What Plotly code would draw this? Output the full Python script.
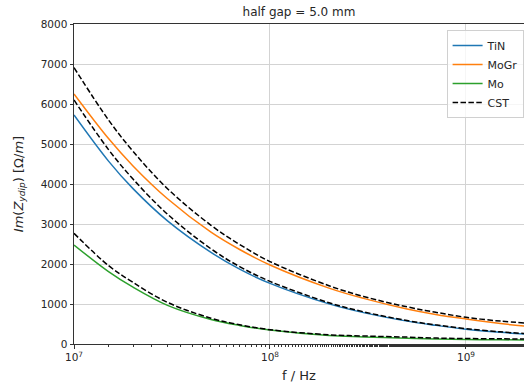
import plotly.graph_objects as go

freq = [1e7, 1.5e7, 2e7, 3e7, 5e7, 7e7, 1e8, 2e8, 3e8, 5e8, 7e8, 1e9, 1.5e9, 2e9]

tin = [5725, 4572, 3884, 3078, 2290, 1871, 1515, 1003, 784, 572, 467, 370, 292, 248]
mogr = [6250, 5135, 4451, 3630, 2795, 2362, 1975, 1397, 1140, 876, 739, 625, 512, 445]
mo = [2475, 1810, 1420, 965, 612, 465, 348, 210, 178, 143, 124, 112, 105, 100]

cst_tin = [6100, 4860, 4124, 3245, 2379, 1935, 1565, 1032, 805, 586, 478, 385, 304, 262]
cst_mogr = [6910, 5600, 4819, 3882, 2968, 2488, 2060, 1457, 1189, 929, 794, 667, 572, 525]
cst_mo = [2767, 1960, 1540, 1040, 645, 482, 358, 230, 200, 172, 148, 137, 130, 125]

y_ticks = [0, 1000, 2000, 3000, 4000, 5000, 6000, 7000, 8000]
x_ticks = [1e7, 1e8, 1e9]
x_ticktext = ["10<sup>7</sup>", "10<sup>8</sup>", "10<sup>9</sup>"]

FONT = "DejaVu Sans"
fig = go.Figure()

for name, ys, col in [("TiN", tin, "#1f77b4"), ("MoGr", mogr, "#ff7f0e"), ("Mo", mo, "#2ca02c")]:
    fig.add_trace(go.Scatter(x=freq, y=ys, mode="lines", name=name,
                             line=dict(color=col, width=1.5, shape="spline", smoothing=1)))

for i, ys in enumerate([cst_tin, cst_mogr, cst_mo]):
    fig.add_trace(go.Scatter(x=freq, y=ys, mode="lines", name="CST",
                             legendgroup="cst", showlegend=(i == 0),
                             line=dict(color="black", width=1.5, dash="5.5px,2.4px",
                                       shape="spline", smoothing=1)))

fig.update_layout(
    width=524, height=392,
    margin=dict(l=74, r=0, t=24, b=48),
    paper_bgcolor="white", plot_bgcolor="white",
    font=dict(family=FONT, size=10.5, color="#262626"),
    title=dict(text="half gap = 5.0 mm", x=(74 + 524) / 2 / 524, xanchor="center",
               y=1 - 12 / 392, yanchor="middle", font=dict(size=12, color="#262626")),
    legend=dict(x=0.828, y=0.981, xanchor="left", yanchor="top",
                bgcolor="rgba(255,255,255,0.8)", bordercolor="#d0d0d0", borderwidth=1,
                font=dict(size=11), tracegroupgap=0),
    showlegend=True,
)

fig.update_xaxes(
    type="log", range=[7, 9.296],
    tickvals=x_ticks, ticktext=x_ticktext,
    showgrid=True, gridcolor="#d3d3d3", gridwidth=1,
    showline=True, linecolor="#333333", linewidth=1, mirror=True,
    ticks="outside", ticklen=3.5, tickcolor="#333333",
    minor=dict(ticks="outside", ticklen=2, tickcolor="#333333", showgrid=False),
    zeroline=False,
    title=dict(text="f / Hz", font=dict(size=13), standoff=8),
)
fig.update_yaxes(
    range=[0, 8000], tickvals=y_ticks,
    showgrid=True, gridcolor="#d3d3d3", gridwidth=1,
    showline=True, linecolor="#333333", linewidth=1,
    ticks="outside", ticklen=3.5, tickcolor="#333333",
    zeroline=False,
    title=dict(text="<i>Im</i>(<i>Z</i><sub><i>ydip</i></sub>) [Ω/<i>m</i>]", font=dict(size=13), standoff=14),
)

fig.write_html("out.html")
